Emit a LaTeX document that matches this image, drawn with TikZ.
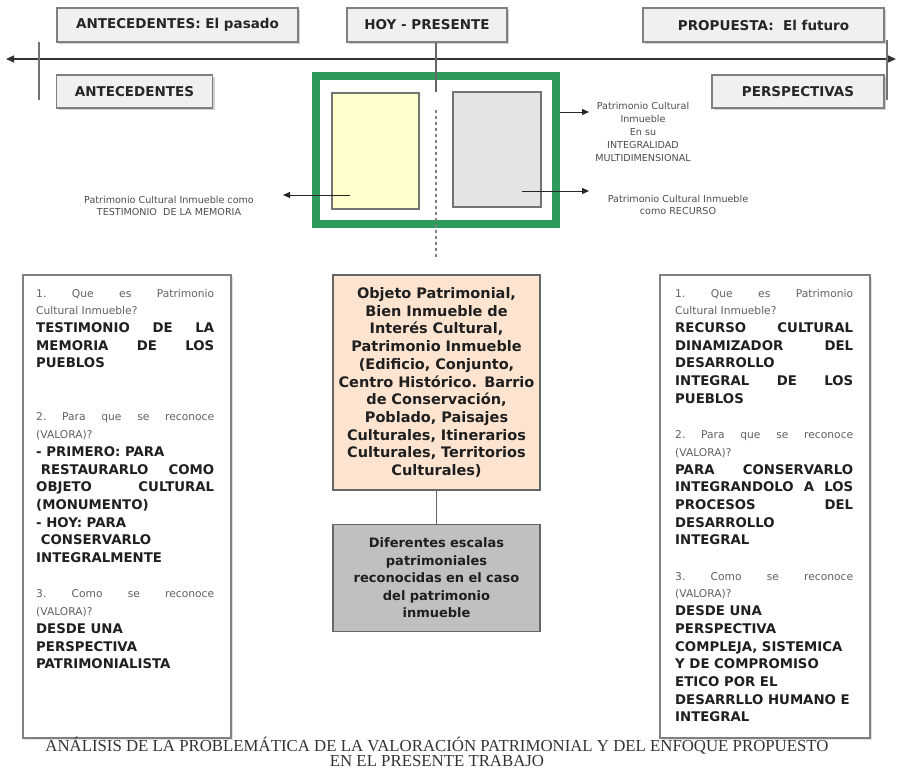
\documentclass[tikz,border=0pt]{standalone}
\usepackage{fontspec}
\setmainfont{DejaVu Sans}
\newfontfamily\capfont{Liberation Serif}
\usetikzlibrary{arrows.meta,shadows}
\definecolor{grn}{RGB}{46,154,92}
\definecolor{peach}{RGB}{252,228,208}
\definecolor{ylw}{RGB}{255,255,204}
\definecolor{lgray}{RGB}{228,228,228}
\definecolor{mgray}{RGB}{192,192,192}
\definecolor{tgray}{RGB}{240,240,240}
\newcommand\bx{\fontsize{13.3}{17.7}\selectfont\bfseries\color{black!88}}
\newcommand\nx{\fontsize{10.7}{17.7}\selectfont\mdseries\color{black!62}}
\newcommand\jline[1]{\hbox to\hsize{#1}}
\newcommand\lline[1]{\hbox to\hsize{#1\hfil}}
\newcommand\eline{\hbox{}}
\newcommand\tcol[1]{\vtop{\hsize=178pt\baselineskip=17.7pt\lineskiplimit=-20pt\relax #1}}
\tikzset{
  topbox/.style={draw=black!50, line width=1.3pt, fill=tgray, inner sep=0pt,
    font=\fontsize{13.5}{16}\selectfont\bfseries, text=black!85,
    drop shadow={shadow xshift=2pt, shadow yshift=-2pt, fill=black!30, opacity=0.6}},
  bigbox/.style={draw=black!50, line width=1.5pt, fill=white, inner sep=0pt,
    drop shadow={shadow xshift=2pt, shadow yshift=-2pt, fill=black!20, opacity=0.6}},
  inbox/.style={draw=black!55, line width=1.3pt, inner sep=0pt},
  cbox/.style={draw=black!60, line width=1.5pt, inner xsep=1pt, inner ysep=4pt, align=center,
    text=black!88},
  note/.style={align=center, text=black!70, inner sep=0pt},
  captxt/.style={anchor=base, inner sep=0pt, text=black!80, font=\capfont\fontsize{16.8}{16}\selectfont},
  conn/.style={line width=1pt, black!85},
  arr/.style={conn, -{Triangle[length=7pt,width=6pt]}},
}
\begin{document}
\begin{tikzpicture}[x=1pt,y=-1pt]
\useasboundingbox (0,0) rectangle (900,782);

% top boxes
\node[topbox, minimum width=241pt, minimum height=34pt] (past) at (177.5,25) {ANTECEDENTES: El pasado};
\node[topbox, minimum width=160pt, minimum height=34pt] (hoy) at (427,25) {HOY - PRESENTE};
\node[topbox, minimum width=241pt, minimum height=34pt] (fut) at (763.5,25) {PROPUESTA:\ \ El futuro};
\node[topbox, minimum width=156pt, minimum height=33pt] (ante) at (134.5,91.5) {ANTECEDENTES};
\node[topbox, minimum width=172pt, minimum height=33pt] (persp) at (798,91.5) {PERSPECTIVAS};

% axis
\coordinate (axL) at (6,59);
\coordinate (axR) at (896,59);
\draw[black!80, line width=1.2pt, {Triangle[length=8pt,width=7pt]}-{Triangle[length=8pt,width=7pt]}] (axL) -- (axR);
\coordinate (tkL1) at (39,42); \coordinate (tkL2) at (39,100);
\coordinate (tkR1) at (887,40); \coordinate (tkR2) at (887,100);
\draw[black!55, line width=1.6pt] (tkL1) -- (tkL2);
\draw[black!55, line width=1.6pt] (tkR1) -- (tkR2);

% present
\node[draw=grn, line width=8pt, minimum width=240pt, minimum height=148pt, inner sep=0pt] (green) at (436,150) {};
\node[inbox, fill=ylw, minimum width=87pt, minimum height=116pt] (yel) at (375.5,151) {};
\node[inbox, fill=lgray, minimum width=88pt, minimum height=115pt] (gry) at (497,149.5) {};
\coordinate (d1) at (436,92);
\coordinate (d2) at (436,110);
\coordinate (d3) at (436,258);
\draw[black!60, line width=1.2pt] (hoy.south -| d1) -- (d1);
\draw[black!50, line width=1.5pt, dash pattern=on 2.5pt off 3.5pt] (d2) -- (d3);

\coordinate (aLs) at (350,195); \coordinate (aLe) at (283,195);
\coordinate (aR1e) at (589,112);
\coordinate (aR2s) at (522,191); \coordinate (aR2e) at (589,191);
\draw[arr] (aLs) -- (aLe);
\draw[arr] (green.east |- aR1e) -- (aR1e);
\draw[arr] (aR2s) -- (aR2e);

\node[note, font=\fontsize{9.6}{12.5}\selectfont] (lblL) at (169,206) {Patrimonio Cultural Inmueble como\\TESTIMONIO\ \ DE LA MEMORIA};
\node[note, font=\fontsize{9.6}{13.2}\selectfont] (lblR1) at (643,132) {Patrimonio Cultural\\Inmueble\\En su\\INTEGRALIDAD\\MULTIDIMENSIONAL};
\node[note, font=\fontsize{9.6}{12.5}\selectfont] (lblR2) at (678,205) {Patrimonio Cultural Inmueble\\como RECURSO};

% left column
\node[bigbox, minimum width=208pt, minimum height=463pt] (lbox) at (127,506.5) {};
\node[anchor=base west, inner sep=0pt] (ltext) at (36,297) {\tcol{%
\jline{\nx 1.\hfill Que\hfill es\hfill Patrimonio}
\lline{\nx Cultural Inmueble?}
\jline{\bx TESTIMONIO\hfill DE\hfill LA}
\jline{\bx MEMORIA\hfill DE\hfill LOS}
\lline{\bx PUEBLOS}
\eline
\eline
\jline{\nx 2.\hfill Para\hfill que\hfill se\hfill reconoce}
\lline{\nx (VALORA)?}
\lline{\bx - PRIMERO: PARA}
\jline{\bx \ RESTAURARLO\hfill COMO}
\jline{\bx OBJETO\hfill CULTURAL}
\lline{\bx (MONUMENTO)}
\lline{\bx - HOY: PARA}
\lline{\bx \ CONSERVARLO}
\lline{\bx INTEGRALMENTE}
\eline
\jline{\nx 3.\hfill Como\hfill se\hfill reconoce}
\lline{\nx (VALORA)?}
\lline{\bx DESDE UNA}
\lline{\bx PERSPECTIVA}
\lline{\bx PATRIMONIALISTA}
}};

% right column
\node[bigbox, minimum width=210pt, minimum height=463pt] (rbox) at (765,506.5) {};
\node[anchor=base west, inner sep=0pt] (rtext) at (675,297) {\tcol{%
\jline{\nx 1.\hfill Que\hfill es\hfill Patrimonio}
\lline{\nx Cultural Inmueble?}
\jline{\bx RECURSO\hfill CULTURAL}
\jline{\bx DINAMIZADOR\hfill DEL}
\lline{\bx DESARROLLO}
\jline{\bx INTEGRAL\hfill DE\hfill LOS}
\lline{\bx PUEBLOS}
\eline
\jline{\nx 2.\hfill Para\hfill que\hfill se\hfill reconoce}
\lline{\nx (VALORA)?}
\jline{\bx PARA\hfill CONSERVARLO}
\jline{\bx INTEGRANDOLO\hfill A\hfill LOS}
\jline{\bx PROCESOS\hfill DEL}
\lline{\bx DESARROLLO}
\lline{\bx INTEGRAL}
\eline
\jline{\nx 3.\hfill Como\hfill se\hfill reconoce}
\lline{\nx (VALORA)?}
\lline{\bx DESDE UNA}
\lline{\bx PERSPECTIVA}
\lline{\bx COMPLEJA, SISTEMICA}
\lline{\bx Y DE COMPROMISO}
\lline{\bx ETICO POR EL}
\lline{\bx DESARRLLO HUMANO E}
\lline{\bx INTEGRAL}
}};

% center column
\node[cbox, fill=peach, minimum width=207pt, minimum height=215pt, text width=205pt,
  font=\fontsize{14.5}{17.7}\selectfont\bfseries] (obj) at (436.5,382.5)
  {Objeto Patrimonial,\\Bien Inmueble de\\Interés Cultural,\\Patrimonio Inmueble\\(Edificio, Conjunto,\\Centro Histórico. Barrio\\de Conservación,\\Poblado, Paisajes\\Culturales, Itinerarios\\Culturales, Territorios\\Culturales)};
\node[cbox, fill=mgray, minimum width=207pt, minimum height=107pt, text width=205pt,
  font=\fontsize{13}{17.5}\selectfont\bfseries] (esc) at (436.5,578)
  {Diferentes escalas\\patrimoniales\\reconocidas en el caso\\del patrimonio\\inmueble};
\draw[black!60, line width=1.5pt] (obj.south) -- (esc.north);

% caption
\node[captxt] (cap1) at (437,751) {ANÁLISIS DE LA PROBLEMÁTICA DE LA VALORACIÓN PATRIMONIAL Y DEL ENFOQUE PROPUESTO};
\node[captxt] (cap2) at (437,766.5) {EN EL PRESENTE TRABAJO};
\end{tikzpicture}
\end{document}
